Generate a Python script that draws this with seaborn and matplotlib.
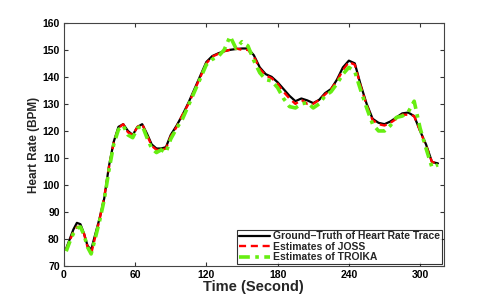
import seaborn as sns
import pandas as pd
import matplotlib.pyplot as plt

time_s = [2, 5, 8, 11, 14, 17, 20, 23, 26, 30, 34, 38, 42, 46, 50, 54, 58, 62, 66, 70,
          74, 78, 82, 86, 90, 95, 100, 105, 110, 115, 120, 125, 130, 135, 140, 145, 150,
          155, 160, 165, 170, 175, 180, 185, 190, 195, 200, 205, 210, 215, 220, 225, 230,
          235, 240, 245, 250, 255, 260, 265, 270, 275, 280, 285, 290, 295, 300, 305, 310, 315]

ground_truth = [76.5, 80, 83.5, 86, 85.5, 82, 77.5, 76, 81, 87.5, 95, 107, 116, 121.5, 122.5,
                120, 118.5, 121.5, 122.5, 119, 115, 113.5, 113.5, 114, 118.5, 122, 126, 130.5,
                135.5, 140.5, 145.5, 147.7, 148.7, 149.5, 150, 150.3, 150.5, 150.5, 148, 143.5,
                141, 140, 138, 135.5, 133, 131, 132, 131.3, 130.3, 131.5, 134, 135.5, 139,
                143.5, 146, 145, 137, 130, 124.5, 123, 122.5, 123.5, 125, 126.5, 126.8, 125.5,
                120, 115, 108.5, 108]

joss = [76, 79.5, 82.5, 84.5, 84.5, 82, 77, 74.5, 80, 87, 95.5, 106.5, 115.5, 121, 122.5,
        119.5, 118.5, 121.5, 122.5, 118.5, 114.5, 113, 113, 113.5, 118, 121.5, 126, 130,
        135, 140, 145, 147.5, 148.5, 149.5, 150, 150.5, 150, 150, 147.5, 143, 140.5, 139.5,
        137.5, 134.5, 132, 130, 131.5, 130, 130, 131.5, 133.5, 135.5, 138.5, 142.5, 145.5,
        144.5, 136.5, 129.5, 124, 122.5, 122, 123, 124.5, 126, 126, 125.5, 120, 114.5,
        108.5, 108]

troika = [75.5, 79, 82, 84, 84.5, 81.5, 77, 74.5, 79.5, 86.5, 94.5, 105.5, 115, 120.5, 122,
          118.5, 117.5, 121, 122, 117.5, 113.5, 112, 113, 112, 117, 121, 124.5, 129.5, 134.5,
          139.5, 144.5, 146.5, 147.5, 150, 155, 150.5, 153, 151.5, 146, 141.5, 139, 138.5,
          136, 132, 129, 128.5, 130, 130.5, 128.5, 130, 133, 134.5, 137.5, 141, 143.5, 142,
          135, 128.5, 122.5, 120, 120, 122, 125, 125.5, 127, 131, 121, 113.5, 106.5, 107.5]

df = pd.DataFrame({"t": time_s, "gt": ground_truth, "joss": joss, "troika": troika})

sns.set_style("white")
plt.rcParams["font.family"] = ["Liberation Sans", "DejaVu Sans"]
plt.rcParams["font.weight"] = "bold"

fig = plt.figure(figsize=(4.91, 3.0), dpi=100)
ax = fig.add_axes([0.130, 0.113, 0.774, 0.811])

sns.lineplot(data=df, x="t", y="gt", ax=ax, color="black", linewidth=1.6,
             label="Ground\u2013Truth of Heart Rate Trace")
sns.lineplot(data=df, x="t", y="joss", ax=ax, color="red", linewidth=1.7,
             linestyle=(0, (3, 2)), label="Estimates of JOSS")
sns.lineplot(data=df, x="t", y="troika", ax=ax, color="#66ee11", linewidth=2.6,
             linestyle=(0, (3, 1.5, 1, 1.5)), label="Estimates of TROIKA")

ax.set_xlim(0, 320)
ax.set_ylim(70, 160)
ax.set_xticks([0, 60, 120, 180, 240, 300])
ax.set_yticks(range(70, 161, 10))
ax.tick_params(direction="in", length=3, labelsize=7.5, top=True, right=True,
               bottom=True, left=True, colors="#333333", labelcolor="black", pad=3)
for lbl in ax.get_xticklabels() + ax.get_yticklabels():
    lbl.set_fontweight("bold")
for s in ax.spines.values():
    s.set_color("#444444")
    s.set_linewidth(0.8)

ax.set_xlabel("Time (Second)", fontsize=10.5, fontweight="bold", labelpad=0)
ax.set_ylabel("Heart Rate (BPM)", fontsize=8.5, fontweight="bold", labelpad=2)

leg = ax.legend(loc="lower right", fontsize=7.5, frameon=True, fancybox=False,
                borderaxespad=0.2, handlelength=3, handletextpad=0.3,
                borderpad=0.15, labelspacing=0.05)
leg.get_frame().set_edgecolor("black")
leg.get_frame().set_linewidth(0.8)
for t in leg.get_texts():
    t.set_fontweight("bold")

fig.savefig("out.png", dpi=100)
